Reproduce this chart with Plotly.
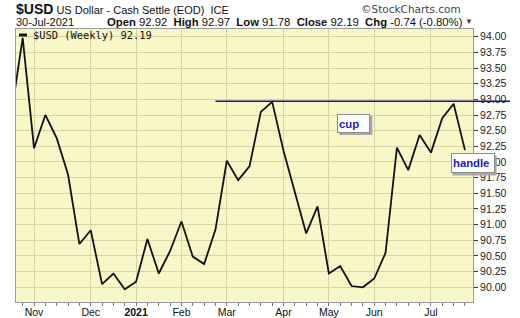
import plotly.graph_objects as go

# ---- data (weekly closes, $USD) ----
weeks = ["2020-10-23", "2020-10-30", "2020-11-06", "2020-11-13", "2020-11-20", "2020-11-27",
         "2020-12-04", "2020-12-11", "2020-12-18", "2020-12-24", "2020-12-31",
         "2021-01-08", "2021-01-15", "2021-01-22", "2021-01-29",
         "2021-02-05", "2021-02-12", "2021-02-19", "2021-02-26",
         "2021-03-05", "2021-03-12", "2021-03-19", "2021-03-26",
         "2021-04-01", "2021-04-09", "2021-04-16", "2021-04-23", "2021-04-30",
         "2021-05-07", "2021-05-14", "2021-05-21", "2021-05-28",
         "2021-06-04", "2021-06-11", "2021-06-18", "2021-06-25",
         "2021-07-02", "2021-07-09", "2021-07-16", "2021-07-23", "2021-07-30"]
closes = [92.77, 93.98, 92.22, 92.75, 92.38, 91.80,
          90.69, 90.91, 90.05, 90.22, 89.97,
          90.09, 90.77, 90.22, 90.58,
          91.05, 90.49, 90.37, 90.92,
          92.02, 91.71, 91.93, 92.80,
          92.96, 92.18, 91.54, 90.86, 91.29,
          90.22, 90.34, 90.02, 90.00,
          90.14, 90.55, 92.23, 91.87,
          92.43, 92.15, 92.70, 92.93, 92.19]
month_labels = ["Nov", "Dec", "<b>2021</b>", "Feb", "Mar", "Apr", "May", "Jun", "Jul"]
month_week_idx = [2, 7, 11, 15, 19, 24, 28, 32, 37]
y_ticks = [90.00, 90.25, 90.50, 90.75, 91.00, 91.25, 91.50, 91.75, 92.00,
           92.25, 92.50, 92.75, 93.00, 93.25, 93.50, 93.75, 94.00]
resistance_level = 92.97
resistance_start_idx = 18
cup_label_pos = (30.2, 92.615)
handle_label_pos = (0.999, 91.976)   # x in paper units

x_idx = list(range(len(closes)))
x_range = [0.41, 40.71]
y_range = [89.765, 94.123]


def xpaper(v):
    return (v - x_range[0]) / (x_range[1] - x_range[0])


def ydom(v):
    return (v - y_range[0]) / (y_range[1] - y_range[0])


fig = go.Figure()
fig.add_trace(go.Scatter(
    x=x_idx, y=closes, mode="lines",
    line=dict(color="#111111", width=1.8),
    customdata=weeks, hovertemplate="%{customdata}: %{y:.2f}<extra></extra>",
    showlegend=False))

grid = "#D6D3A4"
fig.update_layout(
    width=520, height=318,
    margin=dict(l=16, r=47, t=29, b=16),
    paper_bgcolor="white",
    plot_bgcolor="#F8F7C8",
    font=dict(family="Liberation Sans, Arial, sans-serif", color="#111111", size=11),
    xaxis=dict(
        range=x_range, tickmode="array", tickvals=month_week_idx, ticktext=month_labels,
        showgrid=True, gridcolor=grid, gridwidth=1, automargin=False,
        ticks="outside", ticklen=0, tickcolor="#555555",
        minor=dict(dtick=1, tick0=0, ticks="outside", ticklen=3, tickcolor="#777777", showgrid=False),
        showline=True, linecolor="#9A9A9A", linewidth=1, mirror=True,
        tickfont=dict(size=10.5, color="#111111"), zeroline=False, fixedrange=True),
    yaxis=dict(
        range=y_range, side="right", tickmode="array", tickvals=y_ticks,
        tickformat=".2f", showgrid=True, gridcolor=grid, gridwidth=1, automargin=False,
        ticks="outside", ticklen=4, tickcolor="#444444",
        showline=True, linecolor="#9A9A9A", linewidth=1, mirror=True,
        tickfont=dict(size=10.5, color="#222222"), zeroline=False, fixedrange=True),
)

# resistance line (extends over the axis labels)
fig.add_shape(type="line", xref="paper", yref="y domain",
              x0=xpaper(resistance_start_idx), x1=1.081,
              y0=ydom(resistance_level), y1=ydom(resistance_level),
              line=dict(color="#12128A", width=1.5), layer="above")

# legend marker
fig.add_shape(type="line", xref="paper", yref="paper",
              x0=0.0066, x1=0.024, y0=0.978, y1=0.978,
              line=dict(color="#111111", width=3))
fig.add_annotation(xref="paper", yref="paper", x=0.033, y=0.978,
                   xanchor="left", yanchor="middle", showarrow=False,
                   text="$USD (Weekly) 92.19",
                   font=dict(family="DejaVu Sans Mono", size=10.4, color="#111111"))

# header texts
fig.add_annotation(xref="paper", yref="paper", x=-0.004, y=1.073,
                   xanchor="left", yanchor="middle", showarrow=False,
                   text="<span style='font-size:14px'><b>$USD</b></span> US Dollar - Cash Settle (EOD)  ICE",
                   font=dict(size=11, color="#111111"))
fig.add_annotation(xref="paper", yref="paper", x=0.978, y=1.073,
                   xanchor="right", yanchor="middle", showarrow=False,
                   text="©StockCharts.com",
                   font=dict(family="DejaVu Sans", size=10.5, color="#444444"))
fig.add_annotation(xref="paper", yref="paper", x=-0.004, y=1.026,
                   xanchor="left", yanchor="middle", showarrow=False,
                   text="30-Jul-2021", font=dict(size=11, color="#111111"))
fig.add_annotation(xref="paper", yref="paper", x=0.983, y=1.026,
                   xanchor="right", yanchor="middle", showarrow=False,
                   text="<b>Open</b> 92.92  <b>High</b> 92.97  <b>Low</b> 91.78  <b>Close</b> 92.19  <b>Chg</b> -0.74 (-0.80%)",
                   font=dict(size=11.3, color="#111111"))
fig.add_annotation(xref="paper", yref="paper", x=0.992, y=1.026,
                   xanchor="center", yanchor="middle", showarrow=False,
                   text="▼", font=dict(size=8, color="#8A1538"))


# boxed labels with drop shadow
def boxed(text, xp, yd, width, height):
    w = width + 4
    h = height + 4
    fig.add_shape(type="rect", xref="paper", yref="y domain",
                  xsizemode="pixel", ysizemode="pixel", xanchor=xp, yanchor=yd,
                  x0=-w / 2 + 2, x1=w / 2 + 2, y0=-h / 2 - 2, y1=h / 2 - 2,
                  fillcolor="#A8A8A8", line=dict(width=0), layer="above")
    fig.add_annotation(text="<b>" + text + "</b>", font=dict(size=11.3, color="#1A1ACD"),
                       x=xp, y=yd, xref="paper", yref="y domain", showarrow=False,
                       align="left", width=width, height=height, borderpad=1, borderwidth=1,
                       xanchor="center", yanchor="middle",
                       bgcolor="white", bordercolor="#8C8C8C")


boxed("cup", xpaper(cup_label_pos[0]), ydom(cup_label_pos[1]), 29, 15)
boxed("handle", handle_label_pos[0], ydom(handle_label_pos[1]), 40, 16)

fig.write_html("out.html")
